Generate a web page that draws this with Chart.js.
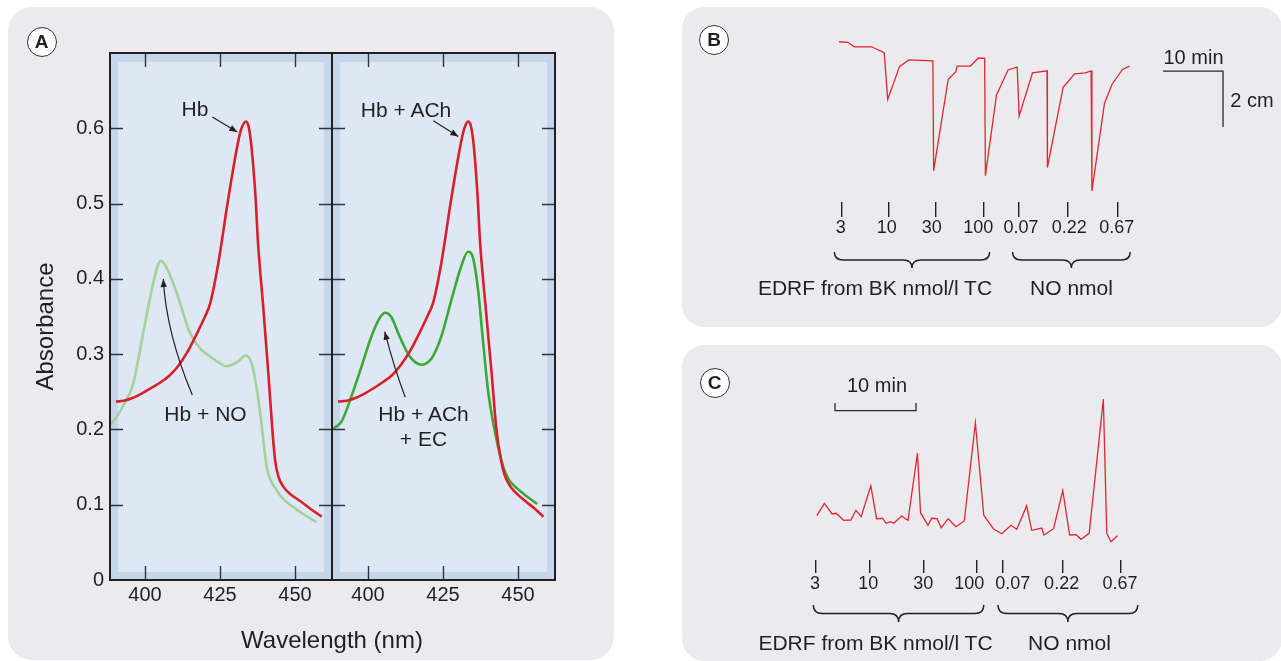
<!DOCTYPE html>
<html><head><meta charset="utf-8">
<script src="https://cdn.jsdelivr.net/npm/chart.js@4.4.1/dist/chart.umd.min.js"></script>
<style>
html,body{margin:0;padding:0;background:#fff;}
#root{position:relative;width:1281px;height:661px;overflow:hidden;font-family:"Liberation Sans",Arial,Helvetica,sans-serif;color:#231f20;}
.panel{position:absolute;background:#ebeaef;}
canvas{position:absolute;}
.t{position:absolute;white-space:nowrap;transform:translate(-50%,-50%);line-height:1;}
.badge{position:absolute;width:30px;height:30px;border:1.3px solid #333;border-radius:50%;background:#fff;box-sizing:border-box;display:flex;align-items:center;justify-content:center;font-weight:bold;font-size:19px;transform:translate(-50%,-50%);}
</style></head>
<body><div id="root">
<div class="panel" style="left:8px;top:7px;width:606px;height:653px;border-radius:24px"></div>
<div class="panel" style="left:682px;top:7px;width:600px;height:320px;border-radius:22px"></div>
<div class="panel" style="left:682px;top:345px;width:600px;height:316px;border-radius:22px"></div>
<canvas id="a1" width="334" height="661" style="left:0;top:0"></canvas>
<canvas id="a2" width="230" height="661" style="left:330px;top:0"></canvas>
<canvas id="cb" width="599" height="320" style="left:682px;top:7px"></canvas>
<canvas id="cc" width="599" height="316" style="left:682px;top:345px"></canvas>

<div class="badge" style="left:41.5px;top:41.5px">A</div>
<div class="badge" style="left:714px;top:40px">B</div>
<div class="badge" style="left:714.5px;top:383px">C</div>

<div class="t" style="left:195px;top:108px;font-size:21px">Hb</div>
<div class="t" style="left:406px;top:109px;font-size:21px">Hb + ACh</div>
<div class="t" style="left:205.5px;top:413px;font-size:21px">Hb + NO</div>
<div class="t" style="left:423.5px;top:413px;font-size:21px">Hb + ACh</div>
<div class="t" style="left:423.5px;top:438px;font-size:21px">+ EC</div>
<div class="t" style="left:332px;top:640px;font-size:24px">Wavelength (nm)</div>

<div class="t" style="left:1193.5px;top:57px;font-size:20px">10 min</div>
<div class="t" style="left:1252px;top:100px;font-size:20px">2 cm</div>
<div class="t" style="left:875px;top:287px;font-size:21px">EDRF from BK nmol/l TC</div>
<div class="t" style="left:1071.5px;top:287px;font-size:21px">NO nmol</div>

<div class="t" style="left:877px;top:385px;font-size:20px">10 min</div>
<div class="t" style="left:875.5px;top:642px;font-size:21px">EDRF from BK nmol/l TC</div>
<div class="t" style="left:1069.5px;top:642px;font-size:21px">NO nmol</div>
</div>
<script>
// ---------- Panel A: absorbance spectra ----------
const xTicksA = [400, 425, 450];
const yTicksA = [0, 0.1, 0.2, 0.3, 0.4, 0.5, 0.6];

const hbWl  = [390.3, 393, 396, 399, 402, 405, 408, 411, 414, 417, 420, 421.7, 424.4, 427.5, 430, 431.7, 432.7, 433.6, 434.5, 435.5, 436.9, 437.6, 439.4, 441.1, 442.5, 443.4, 444.5, 446.1, 448.5, 451.7, 455, 458.9];
const hbAbs = [0.237, 0.238, 0.242, 0.248, 0.255, 0.262, 0.271, 0.284, 0.302, 0.325, 0.350, 0.367, 0.420, 0.500, 0.560, 0.594, 0.605, 0.609, 0.603, 0.575, 0.505, 0.452, 0.363, 0.275, 0.197, 0.158, 0.137, 0.124, 0.114, 0.105, 0.095, 0.084];

const hbNoWl  = [388.3, 390.6, 393.2, 396.1, 399.4, 402.7, 404.3, 405.3, 406.6, 408.3, 410.6, 415, 418.5, 421.7, 424.5, 427.2, 430.6, 433.6, 435.6, 437.2, 438.5, 440.6, 443.9, 446.5, 449.4, 453, 457.2];
const hbNoAbs = [0.206, 0.217, 0.235, 0.261, 0.328, 0.394, 0.418, 0.424, 0.419, 0.405, 0.381, 0.328, 0.307, 0.297, 0.289, 0.284, 0.289, 0.298, 0.287, 0.255, 0.218, 0.150, 0.119, 0.106, 0.097, 0.087, 0.077];

const hbAchWl  = [390.0, 393, 396, 399, 402, 405, 408, 411, 414, 417, 420, 421.7, 424.4, 427.5, 430, 431.7, 432.6, 433.4, 434.3, 435.3, 436.6, 437.3, 439.2, 441.2, 442.8, 444.3, 445.5, 447.5, 450, 453, 455.8, 458.5];
const hbAchAbs = [0.237, 0.238, 0.242, 0.248, 0.255, 0.263, 0.272, 0.286, 0.304, 0.327, 0.352, 0.368, 0.420, 0.500, 0.560, 0.594, 0.605, 0.609, 0.603, 0.575, 0.505, 0.452, 0.363, 0.275, 0.200, 0.160, 0.140, 0.124, 0.113, 0.103, 0.094, 0.084];

const hbAchEcWl  = [388.2, 391.1, 394.4, 397.8, 401.1, 403.9, 405.8, 407.8, 410.6, 413.9, 417.8, 421.1, 424.4, 427.8, 431.1, 433.3, 435.0, 436.7, 438.3, 440.0, 442.4, 445.1, 447.0, 449.6, 453.0, 456.4];
const hbAchEcAbs = [0.201, 0.210, 0.243, 0.283, 0.323, 0.348, 0.355, 0.349, 0.323, 0.297, 0.286, 0.294, 0.323, 0.372, 0.417, 0.436, 0.428, 0.385, 0.319, 0.252, 0.195, 0.150, 0.133, 0.122, 0.111, 0.101];

// annotation arrows (wavelength, absorbance)
const a1Arrows = [
  {from: [422.43, 0.615], to: [430.77, 0.595]},
  {from: [415.77, 0.2457], ctrl: [407.07, 0.328], to: [406.1, 0.3998]}
];
const a2Arrows = [
  {from: [421.77, 0.610], to: [430.1, 0.589]},
  {from: [412.43, 0.2427], ctrl: [408.8, 0.2804], to: [405.57, 0.3298]}
];

// ---------- Panels B and C: bioassay traces ----------
const doseLabels = ['3', '10', '30', '100', '0.07', '0.22', '0.67'];

const bTimeMin   = [0, 1.47, 2.55, 5.43, 7.53, 8.12, 10.08, 11.62, 15.65, 15.77, 18.2, 19.48, 19.67, 21.9, 23.18, 24.27, 24.4, 26.25, 28.17, 29.7, 30.02, 32.25, 34.67, 34.73, 37.35, 39.27, 41.08, 42.02, 42.15, 44.25, 45.53, 47.25, 48.4];
const bTensionCm = [0, -0.02, -0.18, -0.18, -0.39, -2.06, -0.89, -0.65, -0.68, -4.61, -1.34, -1.07, -0.87, -0.87, -0.59, -0.59, -4.79, -1.90, -1.01, -0.91, -2.65, -1.11, -1.04, -4.50, -1.63, -1.15, -1.11, -1.04, -5.33, -2.20, -1.51, -0.99, -0.87];
const bDoseTimes  = [0.45, 8.33, 16.17, 24.17, 29.88, 38.12, 46.45];
const bLabelTimes = [0.28, 7.95, 15.45, 23.22, 30.33, 38.38, 46.28];
const bScaleX = [54, 64, 64];          // 10 min
const bScaleY = [-1.05, -1.05, -3.05]; // 2 cm
const bBraces = [[-0.77, 25.1], [28.93, 48.53]];

const cTimeMin  = [0, 0.94, 1.89, 2.41, 3.31, 4.21, 4.83, 5.48, 6.67, 7.38, 8.14, 8.56, 9.12, 9.51, 10.46, 11.26, 12.43, 12.81, 13.72, 14.19, 14.85, 15.37, 16.22, 17.17, 18.21, 19.58, 20.62, 21.8, 22.84, 23.98, 24.69, 25.91, 26.54, 27.77, 28.05, 29.23, 30.37, 31.22, 32.02, 32.63, 33.63, 35.38, 35.8, 36.32, 37.12];
const cResponse = [2.6, 3.84, 2.77, 2.84, 2.14, 2.17, 3.14, 2.5, 5.6, 2.3, 2.34, 1.84, 2.0, 1.84, 2.57, 2.14, 8.84, 2.9, 1.64, 2.34, 2.3, 1.4, 2.3, 1.5, 2.07, 11.87, 2.64, 1.3, 0.8, 1.64, 1.24, 3.57, 1.14, 1.37, 0.67, 1.3, 5.1, 0.67, 0.7, 0.24, 0.84, 14.27, 0.84, 0.0, 0.6];
const cDoseTimes  = [-0.14, 6.57, 13.23, 19.74, 22.95, 30.31, 37.56];
const cLabelTimes = [-0.22, 6.36, 13.15, 18.83, 24.19, 30.23, 37.43];
const cScaleX = [2.25, 2.25, 12.25, 12.25];   // 10 min
const cScaleY = [13.87, 13.1, 13.1, 13.87];
const cBraces = [[-0.43, 20.62], [22.37, 39.63]];

// ---------- styling ----------
const FONT = "'Liberation Sans', Arial, Helvetica, sans-serif";
const INK = '#231f20';
const RED = '#d7202a';
const LIGHTGREEN = '#a3d397';
const DARKGREEN = '#3aa935';
const TRACE = '#e2262e';
const BAND = '#c6d7ec';
const INNER = '#dee8f5';

Chart.defaults.font.family = FONT;
Chart.defaults.color = INK;
Chart.defaults.animation = false;
Chart.defaults.plugins.legend.display = false;
Chart.defaults.plugins.tooltip.enabled = false;

function pts(xs, ys) { return xs.map((x, i) => ({x: x, y: ys[i]})); }

function spectrumSet(label, xs, ys, color) {
  return {label: label, data: pts(xs, ys), borderColor: color, borderWidth: 2.6,
          pointRadius: 0, fill: false, cubicInterpolationMode: 'monotone'};
}

function drawArrowHead(ctx, x0, y0, x1, y1) {
  const ang = Math.atan2(y1 - y0, x1 - x0);
  const L = 8, W = 3.2;
  ctx.beginPath();
  ctx.moveTo(x1, y1);
  ctx.lineTo(x1 - L * Math.cos(ang) + W * Math.sin(ang), y1 - L * Math.sin(ang) - W * Math.cos(ang));
  ctx.lineTo(x1 - L * Math.cos(ang) - W * Math.sin(ang), y1 - L * Math.sin(ang) + W * Math.cos(ang));
  ctx.closePath();
  ctx.fill();
}

function framePlugin(arrows) {
  return {
    id: 'frame',
    beforeDraw(chart) {
      const {ctx, chartArea: a} = chart;
      ctx.save();
      ctx.fillStyle = BAND;
      ctx.fillRect(a.left, a.top, a.right - a.left, a.bottom - a.top);
      ctx.fillStyle = INNER;
      ctx.fillRect(a.left + 8, a.top + 9, a.right - a.left - 16, a.bottom - a.top - 17);
      ctx.restore();
    },
    afterDatasetsDraw(chart) {
      const {ctx, chartArea: a, scales} = chart;
      const xs = scales.x, ys = scales.y;
      ctx.save();
      ctx.strokeStyle = '#333';
      ctx.lineWidth = 1.4;
      ctx.beginPath();
      yTicksA.forEach(v => {
        if (v === 0) return;
        const y = Math.round(ys.getPixelForValue(v)) + 0.5;
        ctx.moveTo(a.left, y); ctx.lineTo(a.left + 13, y);
        ctx.moveTo(a.right - 13, y); ctx.lineTo(a.right, y);
      });
      xTicksA.forEach(v => {
        const x = Math.round(xs.getPixelForValue(v)) + 0.5;
        ctx.moveTo(x, a.top); ctx.lineTo(x, a.top + 14);
        ctx.moveTo(x, a.bottom - 14); ctx.lineTo(x, a.bottom);
      });
      ctx.stroke();
      ctx.strokeStyle = INK;
      ctx.lineWidth = 2;
      ctx.strokeRect(a.left, a.top, a.right - a.left, a.bottom - a.top);
      // annotation arrows
      ctx.strokeStyle = INK; ctx.fillStyle = INK; ctx.lineWidth = 1.2;
      arrows.forEach(ar => {
        const p0 = [xs.getPixelForValue(ar.from[0]), ys.getPixelForValue(ar.from[1])];
        const p2 = [xs.getPixelForValue(ar.to[0]), ys.getPixelForValue(ar.to[1])];
        ctx.beginPath();
        ctx.moveTo(p0[0], p0[1]);
        let pc = p0;
        if (ar.ctrl) {
          pc = [xs.getPixelForValue(ar.ctrl[0]), ys.getPixelForValue(ar.ctrl[1])];
          ctx.quadraticCurveTo(pc[0], pc[1], p2[0], p2[1]);
        } else {
          ctx.lineTo(p2[0], p2[1]);
        }
        ctx.stroke();
        drawArrowHead(ctx, pc[0], pc[1], p2[0], p2[1]);
      });
      ctx.restore();
    }
  };
}

function bracePlugin(ranges, dy, h) {
  return {
    id: 'braces',
    afterDraw(chart) {
      const {ctx, chartArea: a, scales} = chart;
      const y0 = a.bottom + dy, ym = y0 + h / 2, y1 = y0 + h;
      ctx.save();
      ctx.strokeStyle = INK; ctx.lineWidth = 1.5;
      ranges.forEach(r => {
        const x0 = scales.x.getPixelForValue(r[0]);
        const x1 = scales.x.getPixelForValue(r[1]);
        const xm = (x0 + x1) / 2, rr = 9;
        ctx.beginPath();
        ctx.moveTo(x0, y0);
        ctx.quadraticCurveTo(x0, ym, x0 + rr, ym);
        ctx.lineTo(xm - rr, ym);
        ctx.quadraticCurveTo(xm, ym, xm, y1);
        ctx.quadraticCurveTo(xm, ym, xm + rr, ym);
        ctx.lineTo(x1 - rr, ym);
        ctx.quadraticCurveTo(x1, ym, x1, y0);
        ctx.stroke();
      });
      ctx.restore();
    }
  };
}

function xAxisA(min, max) {
  return {
    type: 'linear', min: min, max: max,
    afterFit: s => { s.height = 30; },
    afterBuildTicks: s => { s.ticks = xTicksA.map(v => ({value: v})); },
    ticks: {font: {size: 20}, padding: 3.5, maxRotation: 0, autoSkip: false, callback: v => String(v)},
    grid: {display: false, drawTicks: false},
    border: {display: false}
  };
}

// Panel A, left: Hb and Hb + NO
new Chart(document.getElementById('a1'), {
  type: 'line',
  data: {datasets: [
    spectrumSet('Hb', hbWl, hbAbs, RED),
    spectrumSet('Hb + NO', hbNoWl, hbNoAbs, LIGHTGREEN)
  ]},
  options: {
    responsive: false,
    layout: {padding: {left: 0, top: 53, right: 2, bottom: 51}},
    scales: {
      x: xAxisA(388.33, 462.33),
      y: {
        min: 0, max: 0.7,
        afterFit: s => { s.width = 110; },
        afterBuildTicks: s => { s.ticks = yTicksA.map(v => ({value: v})); },
        ticks: {font: {size: 20}, padding: 6, callback: v => (v === 0 ? '0' : v.toFixed(1))},
        grid: {display: false, drawTicks: false},
        border: {display: false},
        title: {display: true, text: 'Absorbance   ', font: {size: 24}, color: INK, padding: {top: 31.6, bottom: 0}}
      }
    }
  },
  plugins: [framePlugin(a1Arrows)]
});

// Panel A, right: Hb + ACh and Hb + ACh + EC
new Chart(document.getElementById('a2'), {
  type: 'line',
  data: {datasets: [
    spectrumSet('Hb + ACh', hbAchWl, hbAchAbs, RED),
    spectrumSet('Hb + ACh + EC', hbAchEcWl, hbAchEcAbs, DARKGREEN)
  ]},
  options: {
    responsive: false,
    layout: {padding: {left: 2, top: 53, right: 5, bottom: 51}},
    scales: {
      x: xAxisA(388.0, 462.33),
      y: {display: false, min: 0, max: 0.7}
    }
  },
  plugins: [framePlugin(a2Arrows)]
});

function traceChart(id, t, v, doseTimes, labelTimes, scaleX, scaleY, xmin, xmax, ymin, ymax, pad, tickLen, tickPad, braces, braceDy, braceH) {
  return new Chart(document.getElementById(id), {
    type: 'line',
    data: {datasets: [
      {label: 'response', data: pts(t, v), borderColor: TRACE, borderWidth: 1.3, pointRadius: 0, tension: 0, fill: false},
      {label: 'scale bar', data: pts(scaleX, scaleY), borderColor: '#2a2a2a', borderWidth: 1.3, pointRadius: 0, tension: 0, fill: false}
    ]},
    options: {
      responsive: false,
      layout: {padding: pad},
      scales: {
        x: {
          type: 'linear', min: xmin, max: xmax, weight: 0,
          afterFit: s => { s.height = tickLen; },
          afterBuildTicks: s => { s.ticks = doseTimes.map(val => ({value: val})); },
          ticks: {display: false},
          grid: {display: true, drawOnChartArea: false, drawTicks: true, tickLength: tickLen, color: INK, lineWidth: 1.4},
          border: {display: false}
        },
        xl: {
          type: 'linear', axis: 'x', position: 'bottom', min: xmin, max: xmax, weight: 1,
          afterFit: s => { s.height = 25; },
          afterBuildTicks: s => { s.ticks = labelTimes.map(val => ({value: val})); },
          ticks: {font: {size: 18}, padding: tickPad, maxRotation: 0, autoSkip: false, callback: (val, i) => doseLabels[i]},
          grid: {display: false, drawTicks: false},
          border: {display: false}
        },
        y: {display: false, min: ymin, max: ymax}
      }
    },
    plugins: [bracePlugin(braces, braceDy, braceH)]
  });
}

traceChart('cb', bTimeMin, bTensionCm, bDoseTimes, bLabelTimes, bScaleX, bScaleY, -6.5, 66.83, -5.73, 0.42,
  {left: 118, right: 41, top: 23, bottom: 85}, 15, 0.2, bBraces, 50, 16);
traceChart('cc', cTimeMin, cResponse, cDoseTimes, cLabelTimes, cScaleX, cScaleY, -4.54, 52.25, -1.83, 16.17,
  {left: 98, right: 41, top: 35, bottom: 63}, 13, 0.7, cBraces, 45, 17);
</script>
</body></html>
